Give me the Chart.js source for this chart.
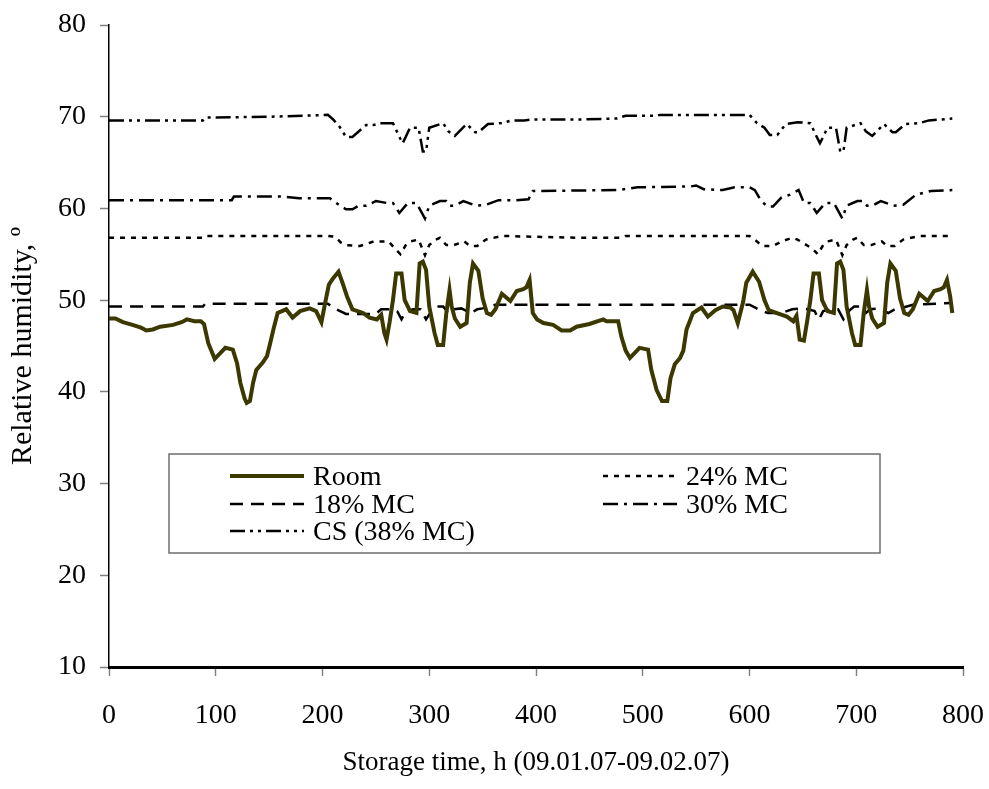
<!DOCTYPE html>
<html lang="en">
<head>
    <meta charset="UTF-8">
    <title>Relative humidity during storage</title>
    <style>
        body {
            margin: 0;
            background: #ffffff;
        }
        #chartBox {
            width: 989px;
            height: 789px;
        }
    </style>
</head>
<body>
    <div id="chartBox">
        <canvas id="rhChart" width="989" height="789"></canvas>
    </div>

    <script src="https://cdn.jsdelivr.net/npm/chart.js"></script>
    <script>
        // Storage time (h) and relative humidity (%)
        const roomTime = [0, 6, 13, 22, 30, 35, 41, 48, 60, 68, 73, 80, 86, 89, 93, 99, 104, 109, 116, 120,
            123, 127, 129, 132, 135, 138, 144, 148, 151, 154, 158, 166, 172, 179, 188, 194, 199, 203, 206, 210,
            215, 219, 223, 228, 238, 244, 251, 255, 258, 260, 263, 266, 269, 274, 277, 282, 288, 291, 294, 297,
            300, 305, 308, 313, 316, 319, 321, 324, 329, 335, 338, 341, 346, 350, 354, 358, 362, 368, 376, 382,
            388, 391, 394, 397, 401, 407, 416, 424, 432, 438, 450, 463, 466, 477, 480, 484, 488, 493, 497, 505,
            508, 513, 518, 523, 526, 530, 535, 538, 541, 547, 555, 561, 568, 575, 582, 585, 589, 594, 597, 603,
            609, 614, 618, 625, 635, 641, 644, 647, 651, 654, 657, 660, 665, 668, 673, 679, 682, 685, 688, 691,
            696, 699, 704, 707, 710, 712, 715, 720, 726, 729, 732, 737, 741, 745, 749, 753, 759, 767, 773, 779,
            782, 785, 788, 790];
        const roomRH = [48.0, 48.0, 47.6, 47.3, 47.0, 46.7, 46.8, 47.1, 47.3, 47.6, 47.9, 47.7, 47.7, 47.4, 45.3, 43.6, 44.2, 44.8, 44.6, 43.1,
            41.0, 39.3, 38.8, 39.0, 41.0, 42.4, 43.2, 43.9, 45.3, 46.8, 48.6, 49.0, 48.1, 48.8, 49.1, 48.8, 47.6, 50.0, 51.7, 52.4,
            53.1, 51.8, 50.4, 49.0, 48.6, 48.1, 47.9, 48.4, 46.4, 45.7, 47.7, 50.0, 52.9, 52.9, 50.0, 48.8, 48.6, 54.0, 54.2, 53.3,
            49.3, 46.4, 45.1, 45.1, 48.6, 51.1, 49.3, 48.0, 47.1, 47.5, 51.9, 54.0, 53.2, 50.2, 48.6, 48.4, 49.0, 50.7, 49.9, 51.0,
            51.2, 51.4, 52.2, 48.6, 47.9, 47.5, 47.3, 46.7, 46.7, 47.1, 47.4, 47.9, 47.7, 47.7, 46.0, 44.5, 43.7, 44.3, 44.8, 44.6,
            42.4, 40.2, 39.0, 39.0, 41.5, 43.0, 43.7, 44.5, 46.8, 48.6, 49.2, 48.2, 48.9, 49.3, 49.2, 48.9, 47.5, 49.8, 51.9, 53.1,
            52.0, 50.0, 48.9, 48.6, 48.2, 47.7, 48.3, 45.7, 45.6, 47.7, 50.0, 52.9, 52.9, 50.0, 48.8, 48.6, 54.0, 54.2, 53.3, 49.3,
            46.4, 45.1, 45.1, 48.6, 51.1, 49.3, 48.0, 47.1, 47.5, 51.9, 54.0, 53.2, 50.2, 48.6, 48.4, 49.0, 50.7, 49.9, 51.0, 51.2,
            51.4, 52.2, 50.4, 48.6];

        const mc18Time = [0, 88, 90, 205, 213, 222, 250, 255, 265, 270, 274, 278, 285, 292, 297, 302, 307, 313, 318, 322,
            330, 339, 345, 350, 362, 600, 605, 610, 617, 630, 640, 649, 655, 661, 665, 669, 676, 683, 688, 693,
            698, 704, 709, 713, 721, 730, 736, 741, 753, 790];
        const mc18RH = [49.3, 49.3, 49.6, 49.6, 49.0, 48.5, 48.5, 49.0, 49.0, 48.8, 47.9, 48.8, 49.0, 49.0, 47.9, 48.8, 49.3, 49.3, 48.6, 49.0,
            49.1, 48.6, 49.0, 49.1, 49.5, 49.5, 49.2, 48.9, 48.6, 48.6, 49.0, 49.1, 49.0, 48.8, 47.9, 48.8, 49.0, 49.0, 47.9, 48.8,
            49.3, 49.3, 48.6, 49.0, 49.1, 48.6, 49.0, 49.1, 49.5, 49.7];

        const mc24Time = [0, 90, 92, 205, 212, 217, 222, 235, 248, 262, 268, 273, 278, 282, 290, 296, 300, 306, 310, 316,
            323, 333, 338, 345, 353, 368, 440, 480, 484, 600, 607, 612, 622, 630, 640, 645, 659, 664, 669, 673,
            681, 687, 691, 697, 701, 707, 714, 724, 729, 736, 744, 759, 790];
        const mc24RH = [56.8, 56.8, 57.0, 57.0, 56.9, 56.3, 56.0, 55.9, 56.4, 56.4, 55.6, 55.0, 56.0, 56.4, 56.6, 54.9, 56.0, 56.6, 56.8, 56.0,
            56.0, 56.4, 55.9, 55.9, 56.6, 57.0, 56.8, 56.8, 57.0, 57.0, 56.4, 55.9, 55.9, 56.4, 56.8, 56.6, 55.6, 55.0, 56.0, 56.4,
            56.6, 54.9, 56.0, 56.6, 56.8, 56.0, 56.0, 56.4, 55.9, 55.9, 56.6, 57.0, 57.0];

        const mc30Time = [0, 115, 117, 163, 178, 207, 214, 222, 228, 234, 241, 250, 260, 266, 272, 280, 288, 296, 300, 310,
            316, 319, 324, 332, 344, 353, 365, 381, 393, 397, 476, 495, 545, 550, 557, 575, 586, 600, 605, 611,
            617, 622, 630, 638, 646, 651, 657, 663, 671, 679, 687, 691, 701, 707, 710, 715, 723, 735, 744, 756,
            770, 790];
        const mc30RH = [60.9, 60.9, 61.3, 61.3, 61.1, 61.1, 60.5, 59.9, 59.9, 60.3, 60.3, 60.8, 60.6, 60.6, 59.5, 60.6, 60.6, 58.9, 60.3, 60.8,
            60.8, 60.3, 60.3, 60.8, 60.3, 60.4, 60.9, 60.9, 61.0, 61.9, 62.0, 62.3, 62.4, 62.5, 62.1, 62.0, 62.3, 62.3, 62.0, 60.8,
            60.2, 60.2, 61.2, 61.5, 62.0, 60.6, 60.6, 59.5, 60.6, 60.6, 58.9, 60.3, 60.8, 60.8, 60.3, 60.3, 60.8, 60.3, 60.4, 61.5,
            61.9, 62.0];

        const csTime = [0, 88, 90, 150, 205, 210, 216, 222, 228, 241, 248, 254, 266, 272, 275, 278, 282, 290, 294, 297,
            300, 313, 318, 324, 335, 343, 346, 355, 368, 377, 389, 396, 440, 475, 484, 513, 516, 600, 607, 614,
            619, 626, 634, 645, 657, 663, 666, 669, 673, 681, 685, 688, 691, 704, 709, 715, 726, 734, 737, 746,
            759, 768, 780, 790];
        const csRH = [69.6, 69.6, 69.9, 70.0, 70.2, 69.7, 68.9, 67.8, 67.8, 69.1, 69.1, 69.3, 69.3, 67.8, 67.1, 67.8, 68.8, 68.8, 66.2, 66.2,
            68.8, 69.3, 68.4, 67.9, 69.2, 68.3, 68.3, 69.2, 69.3, 69.6, 69.6, 69.7, 69.7, 69.8, 70.1, 70.1, 70.2, 70.2, 69.3, 68.8,
            68.0, 68.0, 69.2, 69.4, 69.3, 67.8, 67.1, 67.8, 68.8, 68.8, 66.2, 66.2, 68.8, 69.3, 68.4, 67.9, 69.2, 68.3, 68.3, 69.2,
            69.3, 69.6, 69.7, 69.8];

        const xTicks = [0, 100, 200, 300, 400, 500, 600, 700, 800];
        const yTicks = [10, 20, 30, 40, 50, 60, 70, 80];

        const serif = "'Liberation Serif', 'Times New Roman', serif";

        function toPoints(times, values) {
            return times.map((t, i) => ({ x: t, y: values[i] }));
        }

        // Legend drawn inside the plot, two columns like the original
        const boxLegend = {
            id: 'boxLegend',
            afterDraw(chart) {
                const ctx = chart.ctx;
                const items = [
                    { ds: 0, x: 230, y: 477 },
                    { ds: 2, x: 603, y: 477 },
                    { ds: 1, x: 230, y: 505 },
                    { ds: 3, x: 603, y: 505 },
                    { ds: 4, x: 230, y: 532 }
                ];
                ctx.save();
                ctx.fillStyle = '#ffffff';
                ctx.fillRect(169, 454, 711, 99);
                ctx.strokeStyle = '#6e6e6e';
                ctx.lineWidth = 1.5;
                ctx.strokeRect(169, 454, 711, 99);

                ctx.font = '28px ' + serif;
                ctx.textBaseline = 'middle';
                ctx.textAlign = 'left';
                items.forEach(item => {
                    const ds = chart.data.datasets[item.ds];
                    ctx.beginPath();
                    ctx.setLineDash(ds.borderDash || []);
                    ctx.strokeStyle = ds.borderColor;
                    ctx.lineWidth = ds.borderWidth;
                    ctx.moveTo(item.x, item.y - 1);
                    ctx.lineTo(item.x + 74, item.y - 1);
                    ctx.stroke();
                    ctx.setLineDash([]);
                    ctx.fillStyle = '#000000';
                    ctx.fillText(ds.label, item.x + 83, item.y + 1);
                });
                ctx.restore();
            }
        };

        const ctx = document.getElementById('rhChart').getContext('2d');
        new Chart(ctx, {
            type: 'line',
            data: {
                datasets: [
                    {
                        label: 'Room',
                        data: toPoints(roomTime, roomRH),
                        borderColor: '#3b3800',
                        borderWidth: 4,
                        order: 0
                    },
                    {
                        label: '18% MC',
                        data: toPoints(mc18Time, mc18RH),
                        borderColor: '#000000',
                        borderWidth: 2.5,
                        borderDash: [13, 8]
                    },
                    {
                        label: '24% MC',
                        data: toPoints(mc24Time, mc24RH),
                        borderColor: '#000000',
                        borderWidth: 2.5,
                        borderDash: [5, 6]
                    },
                    {
                        label: '30% MC',
                        data: toPoints(mc30Time, mc30RH),
                        borderColor: '#000000',
                        borderWidth: 2.5,
                        borderDash: [15, 6, 3, 6]
                    },
                    {
                        label: 'CS (38% MC)',
                        data: toPoints(csTime, csRH),
                        borderColor: '#000000',
                        borderWidth: 2.5,
                        borderDash: [15, 5, 3, 5, 3, 5]
                    }
                ]
            },
            options: {
                responsive: false,
                animation: false,
                layout: {
                    padding: { left: 0, right: 26, top: 25, bottom: 0 }
                },
                elements: {
                    point: { radius: 0 },
                    line: { tension: 0, fill: false }
                },
                plugins: {
                    legend: { display: false },
                    tooltip: { enabled: false }
                },
                scales: {
                    x: {
                        type: 'linear',
                        min: 0,
                        max: 800,
                        afterFit(scale) {
                            scale.height = 122;
                            scale.paddingLeft = 0;
                            scale.paddingRight = 0;
                        },
                        afterBuildTicks(scale) { scale.ticks = xTicks.map(v => ({ value: v })); },
                        border: { display: true, color: '#000000', width: 3 },
                        grid: {
                            drawOnChartArea: false,
                            drawTicks: true,
                            tickLength: 9,
                            tickColor: '#808080',
                            tickWidth: 1.5
                        },
                        ticks: {
                            color: '#000000',
                            padding: 23,
                            maxRotation: 0,
                            font: { family: serif, size: 28 }
                        },
                        title: {
                            display: true,
                            text: 'Storage time, h (09.01.07-09.02.07)',
                            color: '#000000',
                            font: { family: serif, size: 27 },
                            padding: { top: 0, bottom: 10 }
                        }
                    },
                    y: {
                        min: 10,
                        max: 80,
                        afterFit(scale) {
                            scale.width = 109;
                            scale.paddingTop = 0;
                            scale.paddingBottom = 0;
                        },
                        afterBuildTicks(scale) { scale.ticks = yTicks.map(v => ({ value: v })); },
                        border: { display: true, color: '#000000', width: 1.5 },
                        grid: {
                            drawOnChartArea: false,
                            drawTicks: true,
                            tickLength: 9,
                            tickColor: '#808080',
                            tickWidth: 1.5
                        },
                        ticks: {
                            color: '#000000',
                            padding: 14,
                            font: { family: serif, size: 28 }
                        },
                        title: {
                            display: true,
                            text: 'Relative humidity, º',
                            color: '#000000',
                            font: { family: serif, size: 30 },
                            padding: { top: 5, bottom: 0 }
                        }
                    }
                }
            },
            plugins: [boxLegend]
        });
    </script>
</body>
</html>
